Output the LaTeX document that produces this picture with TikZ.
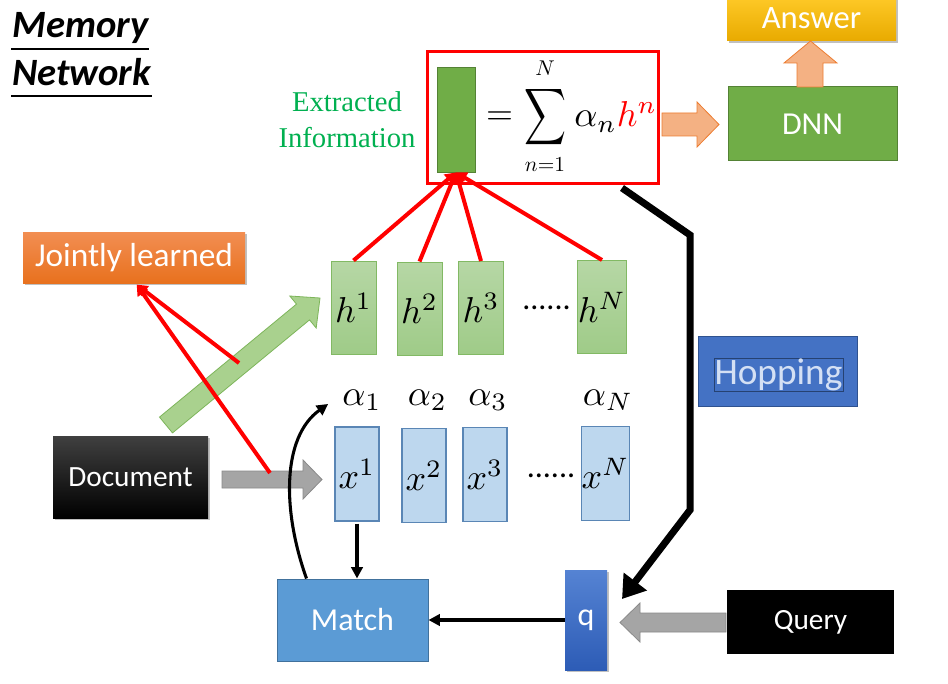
\documentclass[tikz,border=0pt]{standalone}
\usepackage{fontspec}
\usepackage{graphicx}
\newfontfamily\calib{Carlito}
\newfontfamily\tnr{Liberation Serif}
\newcommand\mysc[2]{\scalebox{#1}{$#2$}}
\usetikzlibrary{shadows,arrows.meta,calc}
\definecolor{gbar}{HTML}{70AD47}
\definecolor{gbard}{HTML}{548235}
\definecolor{hfillT}{HTML}{B6D7A5}
\definecolor{hfillB}{HTML}{9FCB88}
\definecolor{hdraw}{HTML}{82B964}
\definecolor{xfill}{HTML}{BDD7EE}
\definecolor{xdraw}{HTML}{5A86B5}
\definecolor{matchfill}{HTML}{5B9BD5}
\definecolor{matchdraw}{HTML}{41719C}
\definecolor{hopfill}{HTML}{4472C4}
\definecolor{hopdraw}{HTML}{2F528F}
\definecolor{hoptext}{HTML}{D4E0F4}
\definecolor{salmon}{HTML}{F4B183}
\definecolor{salmond}{HTML}{ED7D31}
\definecolor{greyarrow}{HTML}{A5A5A5}
\definecolor{greyarrowd}{HTML}{8A8A8A}
\definecolor{extgreen}{HTML}{00B050}
\definecolor{jlT}{HTML}{F28E52}
\definecolor{jlB}{HTML}{E8711E}
\definecolor{ansT}{HTML}{FFCA28}
\definecolor{ansB}{HTML}{E8AA00}
\definecolor{qT}{HTML}{5583D3}
\definecolor{qB}{HTML}{2D5CB6}
\definecolor{garrow}{HTML}{A9D18E}
\definecolor{garrowd}{HTML}{7DB55A}
\tikzset{
 mybox/.style={rectangle, inner sep=0pt, font=\calib\fontsize{24}{29}\selectfont, text=white},
 hbox/.style={rectangle, top color=hfillT, bottom color=hfillB, draw=hdraw, line width=0.75pt, minimum width=33.75pt, minimum height=69.75pt, inner sep=0pt},
 xbox/.style={rectangle, fill=xfill, draw=xdraw, line width=0.9pt, minimum width=33pt, minimum height=70.5pt, inner sep=0pt},
 alab/.style={anchor=base, inner sep=0pt},
 dotrow/.style={anchor=base, inner sep=0pt, font=\calib\fontsize{24}{29}\selectfont},
 redarr/.style={draw=red, line width=3pt, -{Triangle[length=8pt,width=9pt]}},
 blkarr/.style={draw=black, line width=2.3pt, -{Triangle[length=8.5pt,width=8.5pt]}},
 blockgrey/.style={fill=greyarrow, draw=greyarrowd, line width=0.6pt},
 blocksalmon/.style={fill=salmon, draw=salmond, line width=0.6pt},
 blockgreen/.style={fill=garrow, draw=garrowd, line width=0.6pt},
 shad/.style={drop shadow={shadow xshift=1.2pt, shadow yshift=-1.5pt, opacity=0.35, fill=black!70}},
 titletxt/.style={anchor=base west, inner sep=0pt, font=\calib\bfseries\itshape\fontsize{29}{34}\selectfont},
}
\begin{document}
\begin{tikzpicture}[x=0.75pt,y=-0.75pt]
\useasboundingbox (0,0) rectangle (948,684);
\fill[white] (0,0) rectangle (948,684);

% title
\node[titletxt] (mem) at (12,38) {Memory};
\node[titletxt] (net) at (12,86) {Network};
\draw[line width=1.5pt] (11,49) -- (149,49);
\draw[line width=1.5pt] (11,96) -- (152,96);

% extracted information
\node[anchor=north, align=center, inner sep=0pt, text=extgreen, font=\tnr\fontsize{21.5}{27}\selectfont] (extlab) at (347,91) {Extracted\\Information};
\node[draw=red, line width=2.25pt, minimum width=173.25pt, minimum height=99pt, inner sep=0pt] (ext) at (542.5,118) {};
\node[fill=gbar, draw=gbard, line width=0.6pt, minimum width=28.5pt, minimum height=78.75pt, inner sep=0pt] (info) at (456,119.5) {};
\node[inner sep=0pt] (eq) at (499.5,118) {\mysc{2.6}{=}};
\node[inner sep=0pt] (sig) at (545,117.5) {\resizebox*{31.5pt}{47.25pt}{$\displaystyle\sum$}};
\node[inner sep=0pt] (supN) at (545,68) {\mysc{1.6}{N}};
\node[inner sep=0pt] (subn) at (545,165) {\mysc{1.6}{n{=}1}};
\node[anchor=base west, inner sep=0pt] (sumterm) at (574,127) {\mysc{2.7}{\alpha_n{\color{red}h^n}}};

% DNN and answer
\node[mybox, fill=gbar, draw=gbard, line width=0.75pt, minimum width=126.75pt, minimum height=55.5pt] (dnn) at (812.5,124) {DNN};
\node[mybox, top color=ansT, bottom color=ansB, shad, minimum width=126.75pt, minimum height=33.75pt, font=\calib\fontsize{24.5}{29}\selectfont] (ans) at (811.5,18.5) {Answer};
\draw[blocksalmon] (797,87) -- (797,63) -- (784,63) -- (810.5,41) -- (837,63) -- (823,63) -- (823,87) -- cycle;
\draw[blocksalmon] (662,113) -- (697,113) -- (697,102) -- (719,124.5) -- (697,147) -- (697,136) -- (662,136) -- cycle;

% h row
\node[hbox] (h1) at (353.5,307.5) {\mysc{2.7}{h^1}};
\node[hbox] (h2) at (419.5,308.5) {\mysc{2.7}{h^2}};
\node[hbox] (h3) at (481,308) {\mysc{2.7}{h^3}};
\node[hbox] (hN) at (602,307) {\mysc{2.7}{h^N}};
\node[dotrow] (hdots) at (546.5,309) {......};

% alpha labels
\node[alab] (a1) at (362,405) {\mysc{2.7}{\alpha_1}};
\node[alab] (a2) at (427.5,405) {\mysc{2.7}{\alpha_2}};
\node[alab] (a3) at (488,405) {\mysc{2.7}{\alpha_3}};
\node[alab] (aN) at (608,405) {\mysc{2.7}{\alpha_N}};

% x row
\node[xbox] (x1) at (357,474) {\mysc{2.7}{x^1}};
\node[xbox] (x2) at (424,475.5) {\mysc{2.7}{x^2}};
\node[xbox] (x3) at (485,474.5) {\mysc{2.7}{x^3}};
\node[xbox] (xN) at (605.5,473.5) {\mysc{2.7}{x^N}};
\node[dotrow] (xdots) at (551,477) {......};

% red arrows to extracted information
\foreach \h in {h1,h2,h3,hN} \draw[redarr] (\h.north) -- (info.south);

% left side
\node[mybox, top color=jlT, bottom color=jlB, shad, minimum width=166.5pt, minimum height=38.25pt, font=\calib\fontsize{25}{30}\selectfont] (jl) at (134,257.5) {Jointly learned};
\node[mybox, top color=black!75, middle color=black, bottom color=black, shad, minimum width=116.25pt, minimum height=61.5pt, font=\calib\fontsize{22}{27}\selectfont] (doc) at (130.5,477) {Document};
\draw[blockgreen] (172.5,432.9) -- (309.5,319.9) -- (316.2,328) -- (320,298) -- (289.8,296) -- (296.5,304.1) -- (159.5,417.1) -- cycle;
\draw[blockgrey] (222,471) -- (303,471) -- (303,460) -- (322,479.5) -- (303,499) -- (303,488) -- (222,488) -- cycle;
\coordinate (gA) at (239,363);
\coordinate (gB) at (270,473);
\draw[redarr] (gA) -- ([xshift=2pt,yshift=-1pt]jl.south);
\draw[redarr] (gB) -- ([xshift=2pt,yshift=-1pt]jl.south);

% bottom
\node[mybox, fill=matchfill, draw=matchdraw, line width=0.75pt, minimum width=113.25pt, minimum height=61.5pt] (match) at (352.5,620) {Match};
\node[mybox, top color=qT, bottom color=qB, shad, minimum width=31.5pt, minimum height=75pt] (q) at (586,620) {q};
\node[mybox, fill=black, minimum width=125.25pt, minimum height=48pt, font=\calib\fontsize{22}{27}\selectfont] (query) at (810.5,622) {Query};
\draw[blockgrey] (726,613) -- (640,613) -- (640,603) -- (620,622.5) -- (640,642) -- (640,632) -- (726,632) -- cycle;
\draw[blkarr] ([yshift=-1.5pt]x1.south) -- (x1.south |- match.north);
\draw[blkarr] (q.west) -- (match.east);
\draw[blkarr] ([xshift=22.5pt]match.north west) .. controls (282,510) and (282,437) .. ($(a1.west)+(-14,4)$);

% hopping
\node[fill=hopfill, draw=hopdraw, line width=0.75pt, minimum width=119.25pt, minimum height=52.5pt, inner sep=0pt] (hop) at (777.5,371) {};
\node[draw=hopdraw!80!black, line width=0.5pt, minimum width=96.75pt, minimum height=24.75pt, inner sep=0pt, text=hoptext, font=\calib\fontsize{28}{33}\selectfont] (hoptxt) at (778.5,374.5) {Hopping};
\coordinate (hs) at (622,188);
\coordinate (qin) at (622,599);
\draw[line width=5.25pt, -{Triangle[length=16.5pt,width=21pt]}] (hs) -- (690,235) -- (690,510) -- (qin);
\end{tikzpicture}
\end{document}
